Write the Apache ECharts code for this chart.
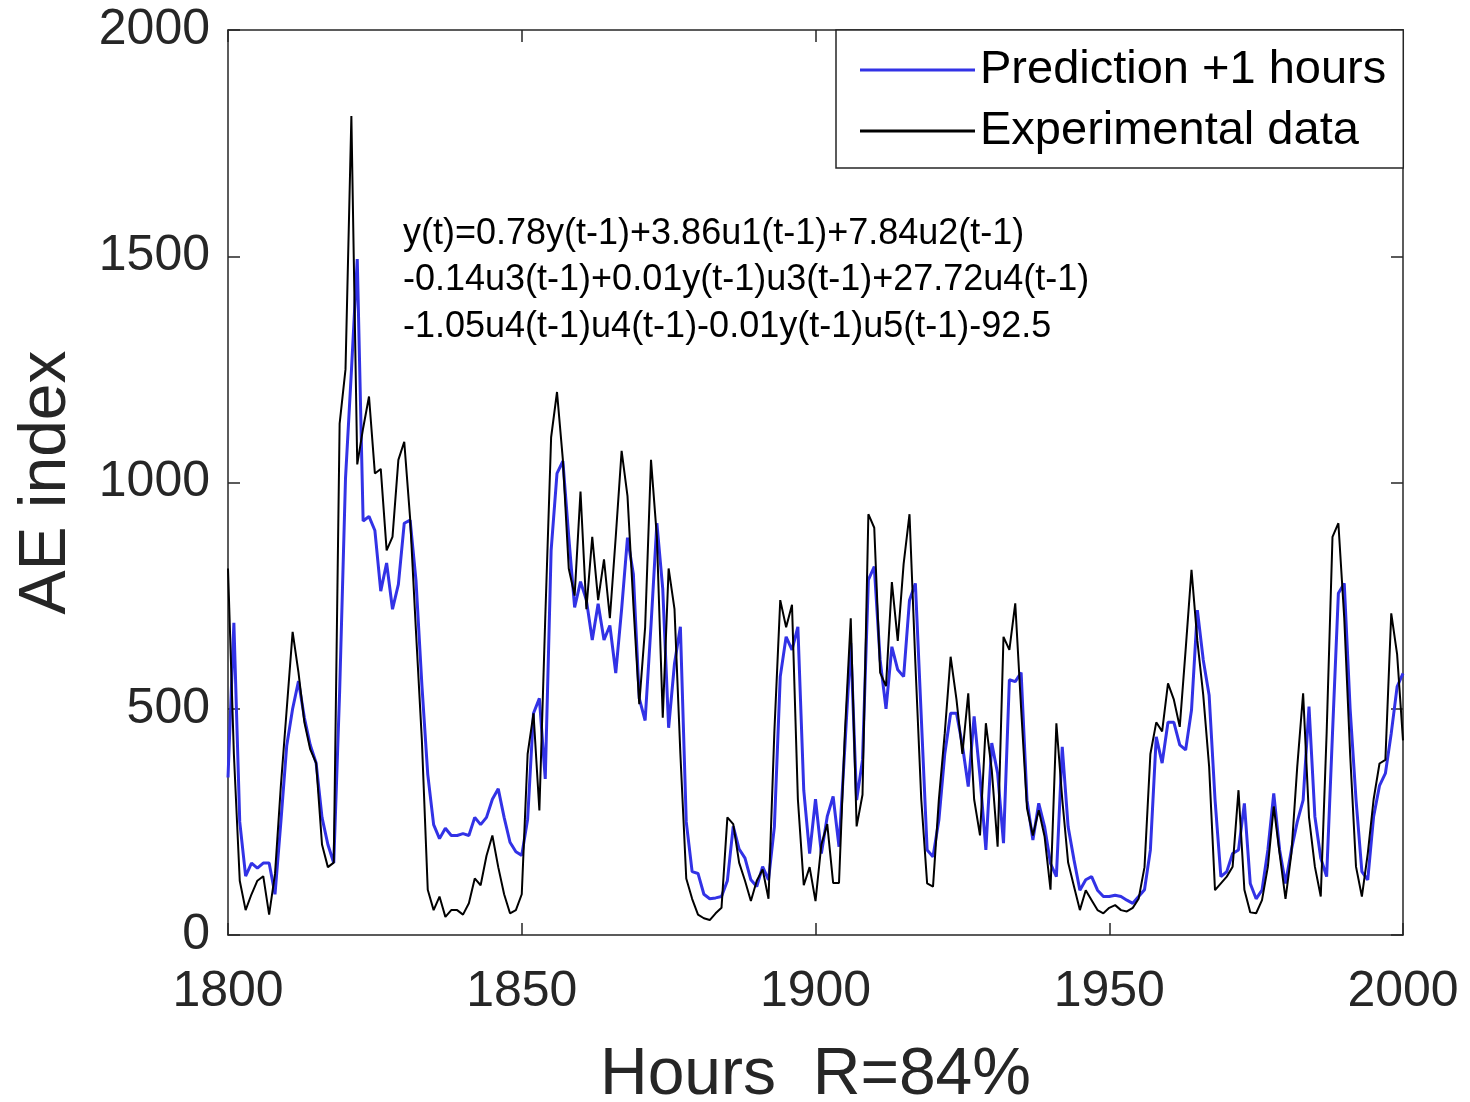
<!DOCTYPE html>
<html>
<head>
<meta charset="utf-8">
<script src="https://cdn.jsdelivr.net/npm/echarts@6/dist/echarts.min.js"></script>
<style>
html,body{margin:0;padding:0;background:#fff;}
#chart{width:1470px;height:1102px;}
</style>
</head>
<body>
<div id="chart"></div>
<script>
// Hours 1800..2000 (hourly)
const startHour = 1800;
const experimental = [
  810, 400, 120, 55, 90, 120, 130, 45, 135, 330,
  500, 670, 580, 470, 410, 380, 200, 150, 160, 1130,
  1250, 1810, 1040, 1120, 1190, 1020, 1030, 850, 880, 1050,
  1090, 920, 670, 430, 100, 55, 85, 40, 55, 55,
  45, 70, 125, 110, 175, 220, 150, 90, 48, 55,
  90, 400, 490, 275, 700, 1100, 1200, 1050, 810, 750,
  980, 720, 880, 740, 830, 700, 880, 1070, 970, 730,
  510, 680, 1050, 880, 480, 810, 720, 400, 125, 80,
  45, 37, 33, 48, 60, 260, 245, 160, 120, 75,
  120, 145, 80, 450, 740, 680, 730, 300, 110, 150,
  75, 200, 245, 115, 115, 446, 700, 240, 310, 930,
  900, 580, 550, 780, 650, 820, 930, 600, 300, 114,
  107, 300, 446, 615, 520, 400, 534, 300, 220, 468,
  365, 195, 659, 630, 733, 500, 280, 220, 276, 217,
  100, 468, 300, 160, 107, 55, 99, 77, 55, 48,
  60, 66, 55, 52, 60, 80, 150, 400, 470, 450,
  556, 520, 460, 630, 807, 650, 530, 372, 99, 114,
  129, 151, 320, 100, 50, 48, 77, 151, 284, 180,
  80, 180, 372, 534, 260, 151, 85, 446, 880, 910,
  700, 400, 151, 85, 180, 300, 379, 387, 711, 620,
  430
];
const prediction = [
  348, 690, 250, 130, 159, 148, 159, 159, 90, 250,
  419, 500, 561, 480, 420, 380, 260, 200, 159, 537,
  1009, 1245, 1494, 915, 925, 894, 760, 822, 720, 775,
  910, 917, 783, 553, 355, 244, 213, 236, 220, 220,
  224, 220, 260, 244, 260, 300, 323, 260, 205, 184,
  176, 256, 490, 523, 345, 850, 1020, 1047, 880, 724,
  781, 740, 652, 732, 652, 684, 579, 720, 878, 797,
  523, 474, 684, 910, 765, 458, 600, 681, 250, 140,
  136, 90, 80, 82, 85, 120, 240, 190, 170, 122,
  107, 151, 122, 239, 571, 659, 630, 681, 320, 180,
  300, 180, 262, 306, 195, 416, 645, 298, 387, 785,
  814, 608, 500, 637, 586, 571, 740, 777, 483, 188,
  173, 254, 400, 490, 490, 420, 328, 483, 350, 188,
  424, 357, 203, 564, 560, 580, 298, 210, 291, 239,
  158, 129, 416, 239, 166, 99, 122, 129, 99, 85,
  85, 88, 85, 77, 70, 85, 100, 188, 438, 380,
  470, 470, 420, 409, 497, 718, 608, 530, 300, 129,
  140, 180, 188, 291, 114, 80, 99, 188, 313, 188,
  114, 188, 250, 298, 505, 262, 170, 129, 446, 755,
  777, 500, 300, 140, 122, 262, 330, 357, 446, 549,
  578
];
const xTicks = [1800, 1850, 1900, 1950, 2000];
const yTicks = [0, 500, 1000, 1500, 2000];
const equationLines = [
  'y(t)=0.78y(t-1)+3.86u1(t-1)+7.84u2(t-1)',
  '-0.14u3(t-1)+0.01y(t-1)u3(t-1)+27.72u4(t-1)',
  '-1.05u4(t-1)u4(t-1)-0.01y(t-1)u5(t-1)-92.5'
];

const toPairs = arr => arr.map((v, i) => [startHour + i, v]);
const FONT = '"Liberation Sans", Arial, Helvetica, sans-serif';
const INK = '#262626';

const chart = echarts.init(document.getElementById('chart'), null, {renderer: 'canvas'});

const axisCommon = {
  axisLine: {show: true, onZero: false, lineStyle: {color: INK, width: 1.5}},
  axisTick: {show: true, inside: true, length: 12, lineStyle: {color: INK, width: 1.5}},
  splitLine: {show: false}
};

const option = {
  backgroundColor: '#fff',
  animation: false,
  grid: {left: 228, top: 30, right: 67, bottom: 167, containLabel: false, outerBoundsMode: 'none'},
  legend: {
    left: 836, top: 30,
    orient: 'vertical',
    padding: [12, 17, 9, 24],
    itemGap: 5,
    itemWidth: 115, itemHeight: 3,
    icon: 'rect',
    borderColor: INK, borderWidth: 1.5, backgroundColor: '#fff',
    textStyle: {fontFamily: FONT, fontSize: 47, color: '#000', lineHeight: 56, padding: [0, 0, 0, 0]},
    data: ['Prediction +1 hours', 'Experimental data']
  },
  xAxis: [
    Object.assign({}, axisCommon, {
      type: 'value', position: 'bottom', min: 1800, max: 2000, interval: 50,
      axisLabel: {fontFamily: FONT, fontSize: 50, color: INK, margin: 32,
        formatter: v => xTicks.includes(v) ? String(v) : ''},
      name: 'Hours  R=84%', nameLocation: 'middle', nameGap: 108,
      nameTextStyle: {fontFamily: FONT, fontSize: 66, color: INK}
    }),
    Object.assign({}, axisCommon, {
      type: 'value', position: 'top', min: 1800, max: 2000, interval: 50,
      axisLabel: {show: false}
    })
  ],
  yAxis: [
    Object.assign({}, axisCommon, {
      type: 'value', position: 'left', min: 0, max: 2000, interval: 500,
      axisLabel: {fontFamily: FONT, fontSize: 50, color: INK, margin: 18,
        formatter: v => yTicks.includes(v) ? String(v) : ''},
      name: 'AE index', nameLocation: 'middle', nameGap: 148, nameRotate: 90,
      nameTextStyle: {fontFamily: FONT, fontSize: 66, color: INK}
    }),
    Object.assign({}, axisCommon, {
      type: 'value', position: 'right', min: 0, max: 2000, interval: 500,
      axisLabel: {show: false}
    })
  ],
  series: [
    {
      name: 'Prediction +1 hours', type: 'line', xAxisIndex: 0, yAxisIndex: 0,
      data: toPairs(prediction), showSymbol: false, symbol: 'none',
      lineStyle: {color: '#3232e6', width: 3}, itemStyle: {color: '#3232e6'}, z: 2
    },
    {
      name: 'Experimental data', type: 'line', xAxisIndex: 0, yAxisIndex: 0,
      data: toPairs(experimental), showSymbol: false, symbol: 'none',
      lineStyle: {color: '#000', width: 2}, itemStyle: {color: '#000'}, z: 3
    }
  ],
  graphic: equationLines.map((t, i) => ({
    type: 'text', x: 403, y: 234 + i * 46.5, z: 10,
    style: {text: t, fontFamily: FONT, fontSize: 36, fill: '#000', textVerticalAlign: 'middle', verticalAlign: 'middle'}
  }))
};
chart.setOption(option);
</script>
</body>
</html>
